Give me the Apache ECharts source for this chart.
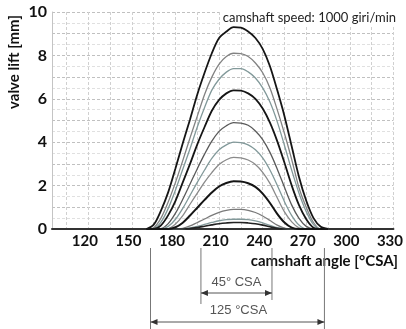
<!DOCTYPE html>
<html><head><meta charset="utf-8">
<script src="https://cdn.jsdelivr.net/npm/echarts@6/dist/echarts.min.js"></script>
<style>html,body{margin:0;padding:0;background:#fff}#c{width:406px;height:329px}</style>
</head><body><div id="c"></div>
<script>
// camshaft angle samples [°CSA]
const angles = [160,165,170,175,180,185,190,195,200,205,210,215,220,225,230,235,240,245,250,255,260,265,270,275,280,285];
// valve lift curves [mm]
const lift93 = [0,0.2,0.85,1.7,2.8,3.95,5.05,6.2,7.2,8.1,8.8,9.1,9.3,9.28,9.1,8.8,8.3,7.5,6.4,5.2,3.8,2.4,1.3,0.5,0.1,0];
const lift81 = [0,0.06,0.5,1.25,2.15,3.15,4.2,5.2,6.2,7.0,7.6,7.95,8.1,8.08,7.95,7.65,7.2,6.5,5.5,4.4,3.2,1.9,1.0,0.3,0,0];
const lift74 = [0,0.02,0.32,0.95,1.8,2.75,3.7,4.7,5.6,6.4,6.9,7.23,7.39,7.39,7.24,6.96,6.5,5.85,4.95,3.85,2.7,1.65,0.8,0.2,0,0];
const lift64 = [0,0,0.17,0.64,1.3,2.15,3.0,3.9,4.7,5.45,5.95,6.25,6.39,6.38,6.25,6.0,5.55,4.9,4.05,3.05,2.0,1.1,0.45,0.06,0,0];
const lift49 = [0,0,0.02,0.25,0.73,1.37,2.07,2.78,3.45,4.05,4.5,4.76,4.9,4.88,4.78,4.52,4.12,3.53,2.77,1.92,1.1,0.49,0.12,0,0,0];
const lift40 = [0,0,0,0.12,0.45,0.95,1.55,2.15,2.72,3.25,3.65,3.88,4.0,3.98,3.88,3.65,3.28,2.72,2.02,1.26,0.62,0.18,0,0,0,0];
const lift33 = [0,0,0,0.02,0.23,0.62,1.14,1.65,2.16,2.6,2.97,3.19,3.3,3.28,3.18,2.97,2.61,2.1,1.44,0.79,0.33,0.05,0,0,0,0];
const lift22 = [0,0,0,0,0.08,0.29,0.62,0.98,1.34,1.68,1.96,2.12,2.2,2.19,2.11,1.94,1.63,1.2,0.7,0.3,0.06,0,0,0,0,0];
const lift09 = [0,0,0,0,0,0.03,0.14,0.3,0.46,0.63,0.77,0.86,0.9,0.9,0.86,0.76,0.6,0.39,0.18,0.04,0,0,0,0,0,0];
const lift045 = [0,0,0,0,0,0,0.05,0.12,0.21,0.3,0.38,0.43,0.45,0.45,0.43,0.37,0.28,0.17,0.06,0.01,0,0,0,0,0,0];
const lift03 = [0,0,0,0,0,0,0.02,0.07,0.13,0.19,0.245,0.28,0.3,0.3,0.28,0.245,0.18,0.1,0.03,0,0,0,0,0,0,0];

const xTickLabels = [120,150,180,210,240,270,300,330];
const xGridValues = [105,120,135,150,165,180,195,210,225,240,255,270,285,300,315,330];
const yTickLabels = [0,2,4,6,8,10];
// annotation angles: 125 °CSA span and 45° CSA span
const span125 = [162.8, 282.5];
const span45 = [197.5, 246.4];
const speedText = 'camshaft speed: 1000 giri/min';

const curves = [lift93, lift81, lift74, lift64, lift49, lift40, lift33, lift22, lift09, lift045, lift03];
const curveStyles = [
  {c:'#151515', w:1.8}, {c:'#828282', w:1.3}, {c:'#82999a', w:1.3}, {c:'#151515', w:1.8},
  {c:'#5a5a5a', w:1.3}, {c:'#82999a', w:1.3}, {c:'#8a8a8a', w:1.3}, {c:'#151515', w:2},
  {c:'#7a7a7a', w:1.3}, {c:'#82999a', w:1.3}, {c:'#222', w:1.6}
];

const chart = echarts.init(document.getElementById('c'));
const option = {
  animation: false,
  backgroundColor: '#fff',
  grid: {left: 52, right: 8, top: 12, bottom: 100},
  xAxis: {
    type: 'value', min: 95, max: 330,
    axisLine: {show: true, lineStyle: {color: '#333', width: 2}},
    axisTick: {show: false, customValues: xGridValues},
    axisLabel: {customValues: xTickLabels, color: '#111', fontFamily: 'Lato', fontWeight: 'bold', fontSize: 15, margin: 5, padding: [0, 7, 0, 0]},
    splitLine: {show: true, lineStyle: {color: '#d0d0d0', type: [3, 2], width: 1}}
  },
  yAxis: {
    type: 'value', min: 0, max: 10, interval: 1,
    axisLine: {show: true, lineStyle: {color: '#c4c4c4', width: 1}},
    axisTick: {show: false},
    axisLabel: {
      color: '#111', fontFamily: 'Lato', fontWeight: 'bold', fontSize: 16, margin: 5,
      formatter: v => yTickLabels.indexOf(v) >= 0 ? String(v) : ''
    },
    splitLine: {show: true, lineStyle: {color: '#c0c0c0', type: [3, 2], width: 1}},
    minorTick: {show: false, splitNumber: 2},
    minorSplitLine: {show: true, lineStyle: {color: '#e0e0e0', type: [3, 2], width: 1}}
  },
  series: curves.map((vals, i) => ({
    type: 'line',
    data: angles.map((a, j) => [a, vals[j]]),
    showSymbol: false,
    smooth: 0.3,
    lineStyle: {color: curveStyles[i].c, width: curveStyles[i].w},
    z: 2 + (i === 0 || i === 3 || i === 7 ? 1 : 0)
  }))
};
chart.setOption(option);

const px = a => chart.convertToPixel({xAxisIndex: 0}, a);
const L0 = px(span125[0]), L1 = px(span125[1]);
const M0 = px(span45[0]), M1 = px(span45[1]);
const lineCol = '#777';
const arrow = (x, y, dir) => ({
  type: 'polygon', z: 10,
  shape: {points: [[x, y], [x + dir * 7, y - 3], [x + dir * 7, y + 3]]},
  style: {fill: '#333'}
});
const vline = (x, y1, y2) => ({type: 'line', z: 10, shape: {x1: x, y1: y1, x2: x, y2: y2}, style: {stroke: lineCol, lineWidth: 1}});
const hline = (x1, x2, y) => ({type: 'line', z: 10, shape: {x1: x1, y1: y, x2: x2, y2: y}, style: {stroke: '#555', lineWidth: 1}});

chart.setOption({
  graphic: [
    {type: 'rect', z: 1, shape: {x: 221, y: 5, width: 185, height: 22}, style: {fill: '#fff'}},
    {type: 'text', z: 10, x: 396, y: 18, style: {text: speedText, font: '13px Lato', fill: '#222', textAlign: 'right', textVerticalAlign: 'middle'}},
    {type: 'text', z: 10, x: 14, y: 62, rotation: Math.PI / 2, style: {text: 'valve lift [mm]', font: 'bold 15px Lato', fill: '#111', textAlign: 'center', textVerticalAlign: 'middle'}},
    {type: 'text', z: 10, x: 398, y: 261, style: {text: 'camshaft angle [°CSA]', font: 'bold 15px Lato', fill: '#111', textAlign: 'right', textVerticalAlign: 'middle'}},
    vline(L0, 248, 329), vline(L1, 248, 329), vline(M0, 248, 304), vline(M1, 248, 300),
    hline(M0, M1, 293), arrow(M0, 293, 1), arrow(M1, 293, -1),
    hline(L0, L1, 322), arrow(L0, 322, 1), arrow(L1, 322, -1),
    {type: 'text', z: 10, x: (M0 + M1) / 2, y: 282, style: {text: '45° CSA', font: '13px "Liberation Sans"', fill: '#555', textAlign: 'center', textVerticalAlign: 'middle'}},
    {type: 'text', z: 10, x: (M0 + M1) / 2 + 2, y: 310, style: {text: '125 °CSA', font: '13px "Liberation Sans"', fill: '#555', textAlign: 'center', textVerticalAlign: 'middle'}}
  ]
});
</script>
</body></html>
